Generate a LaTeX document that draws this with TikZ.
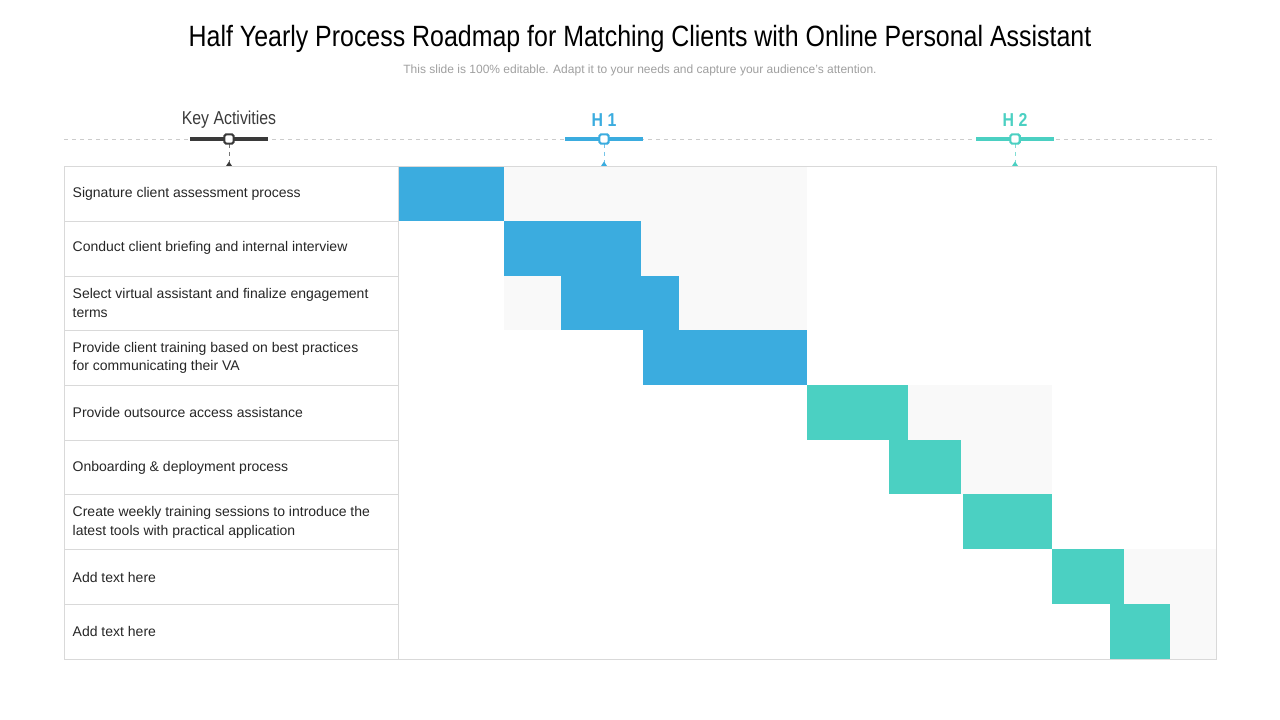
\documentclass[tikz,border=0pt]{standalone}
\usepackage{fontspec}
\setmainfont{Liberation Sans}
\begin{document}
\begin{tikzpicture}[x=0.75pt,y=-0.75pt,
  blu/.style={fill=c1,draw=none},
  tea/.style={fill=c2,draw=none},
  shade/.style={fill=gray!5,draw=none},
  grid/.style={draw=gray!30,line width=0.6pt},
  rowtxt/.style={anchor=west,align=left,font=\fontsize{10.5}{14}\selectfont,text=black!85},
  marker/.style={draw=#1,line width=1.6pt,fill=white,rounded corners=1.2pt,minimum size=7pt,inner sep=0pt}]
\definecolor{c1}{HTML}{3BACDF}
\definecolor{c2}{HTML}{4BD0C2}
\definecolor{c0}{HTML}{3A3A3A}
\useasboundingbox (0,0) rectangle (1280,720);
\node (title) at (640,39) {\fontsize{22}{26}\selectfont\addfontfeature{FakeStretch=0.85}Half Yearly Process Roadmap for Matching Clients with Online Personal Assistant};
\node[text=gray!75] (sub) at (640,70) {\fontsize{9}{11}\selectfont This slide is 100\% editable. Adapt it to your needs and capture your audience's attention.};
% shading
\fill[gray!5] (504,166) rectangle (807,330);
\fill[gray!5] (907,385) rectangle (1052,494);
\fill[gray!5] (1124,549) rectangle (1216,659);
% bars
\fill[c1] (398,166) rectangle (504,221);
\fill[c1] (504,221) rectangle (641,276);
\fill[c1] (561,276) rectangle (679,330);
\fill[c1] (643,330) rectangle (807,385);
\fill[c2] (807,385) rectangle (908,440);
\fill[c2] (889,440) rectangle (961,494);
\fill[c2] (963,494) rectangle (1052,549);
\fill[c2] (1052,549) rectangle (1124,604);
\fill[c2] (1110,604) rectangle (1170,659);
% grid
\draw[grid] (64,166) rectangle (1216,659);
\draw[grid] (398,166) -- (398,659);
\foreach \y in {221,276,330,385,440,494,549,604} \draw[grid] (64,\y) -- (398,\y);
% rows
\foreach \t [count=\i] in {Signature client assessment process,
 Conduct client briefing and internal interview,
 {Select virtual assistant and finalize engagement\\terms},
 {Provide client training based on best practices\\for communicating  their VA},
 Provide outsource access assistance,
 Onboarding \& deployment process,
 {Create weekly training sessions to introduce the\\latest tools with practical application},
 Add text here, Add text here}
 \node[rowtxt] (r\i) at (68,{166+54.8*(\i-0.5)}) {\t};
% header
\draw[gray!40,dashed,line width=0.5pt] (64,139) -- (1216,139);
\foreach \x/\c/\l/\n in {229/c0/{Key Activities}/k, 604/c1/{\bfseries H 1}/h, 1015/c2/{\bfseries H 2}/g}{
  \draw[\c,line width=3pt] (\x-39,139) -- (\x+39,139);
  \draw[\c!70,dashed,line width=0.4pt] (\x,144) -- (\x,163);
  \fill[\c] (\x-3,166) -- (\x+3,166) -- (\x,161.5) -- cycle;
  \node[marker=\c] (m\n) at (\x,139) {};
  \node[text=\c] (t\n) at (\x,120) {\fontsize{14}{16}\selectfont\addfontfeature{FakeStretch=0.85}\l};
}
\end{tikzpicture}
\end{document}
